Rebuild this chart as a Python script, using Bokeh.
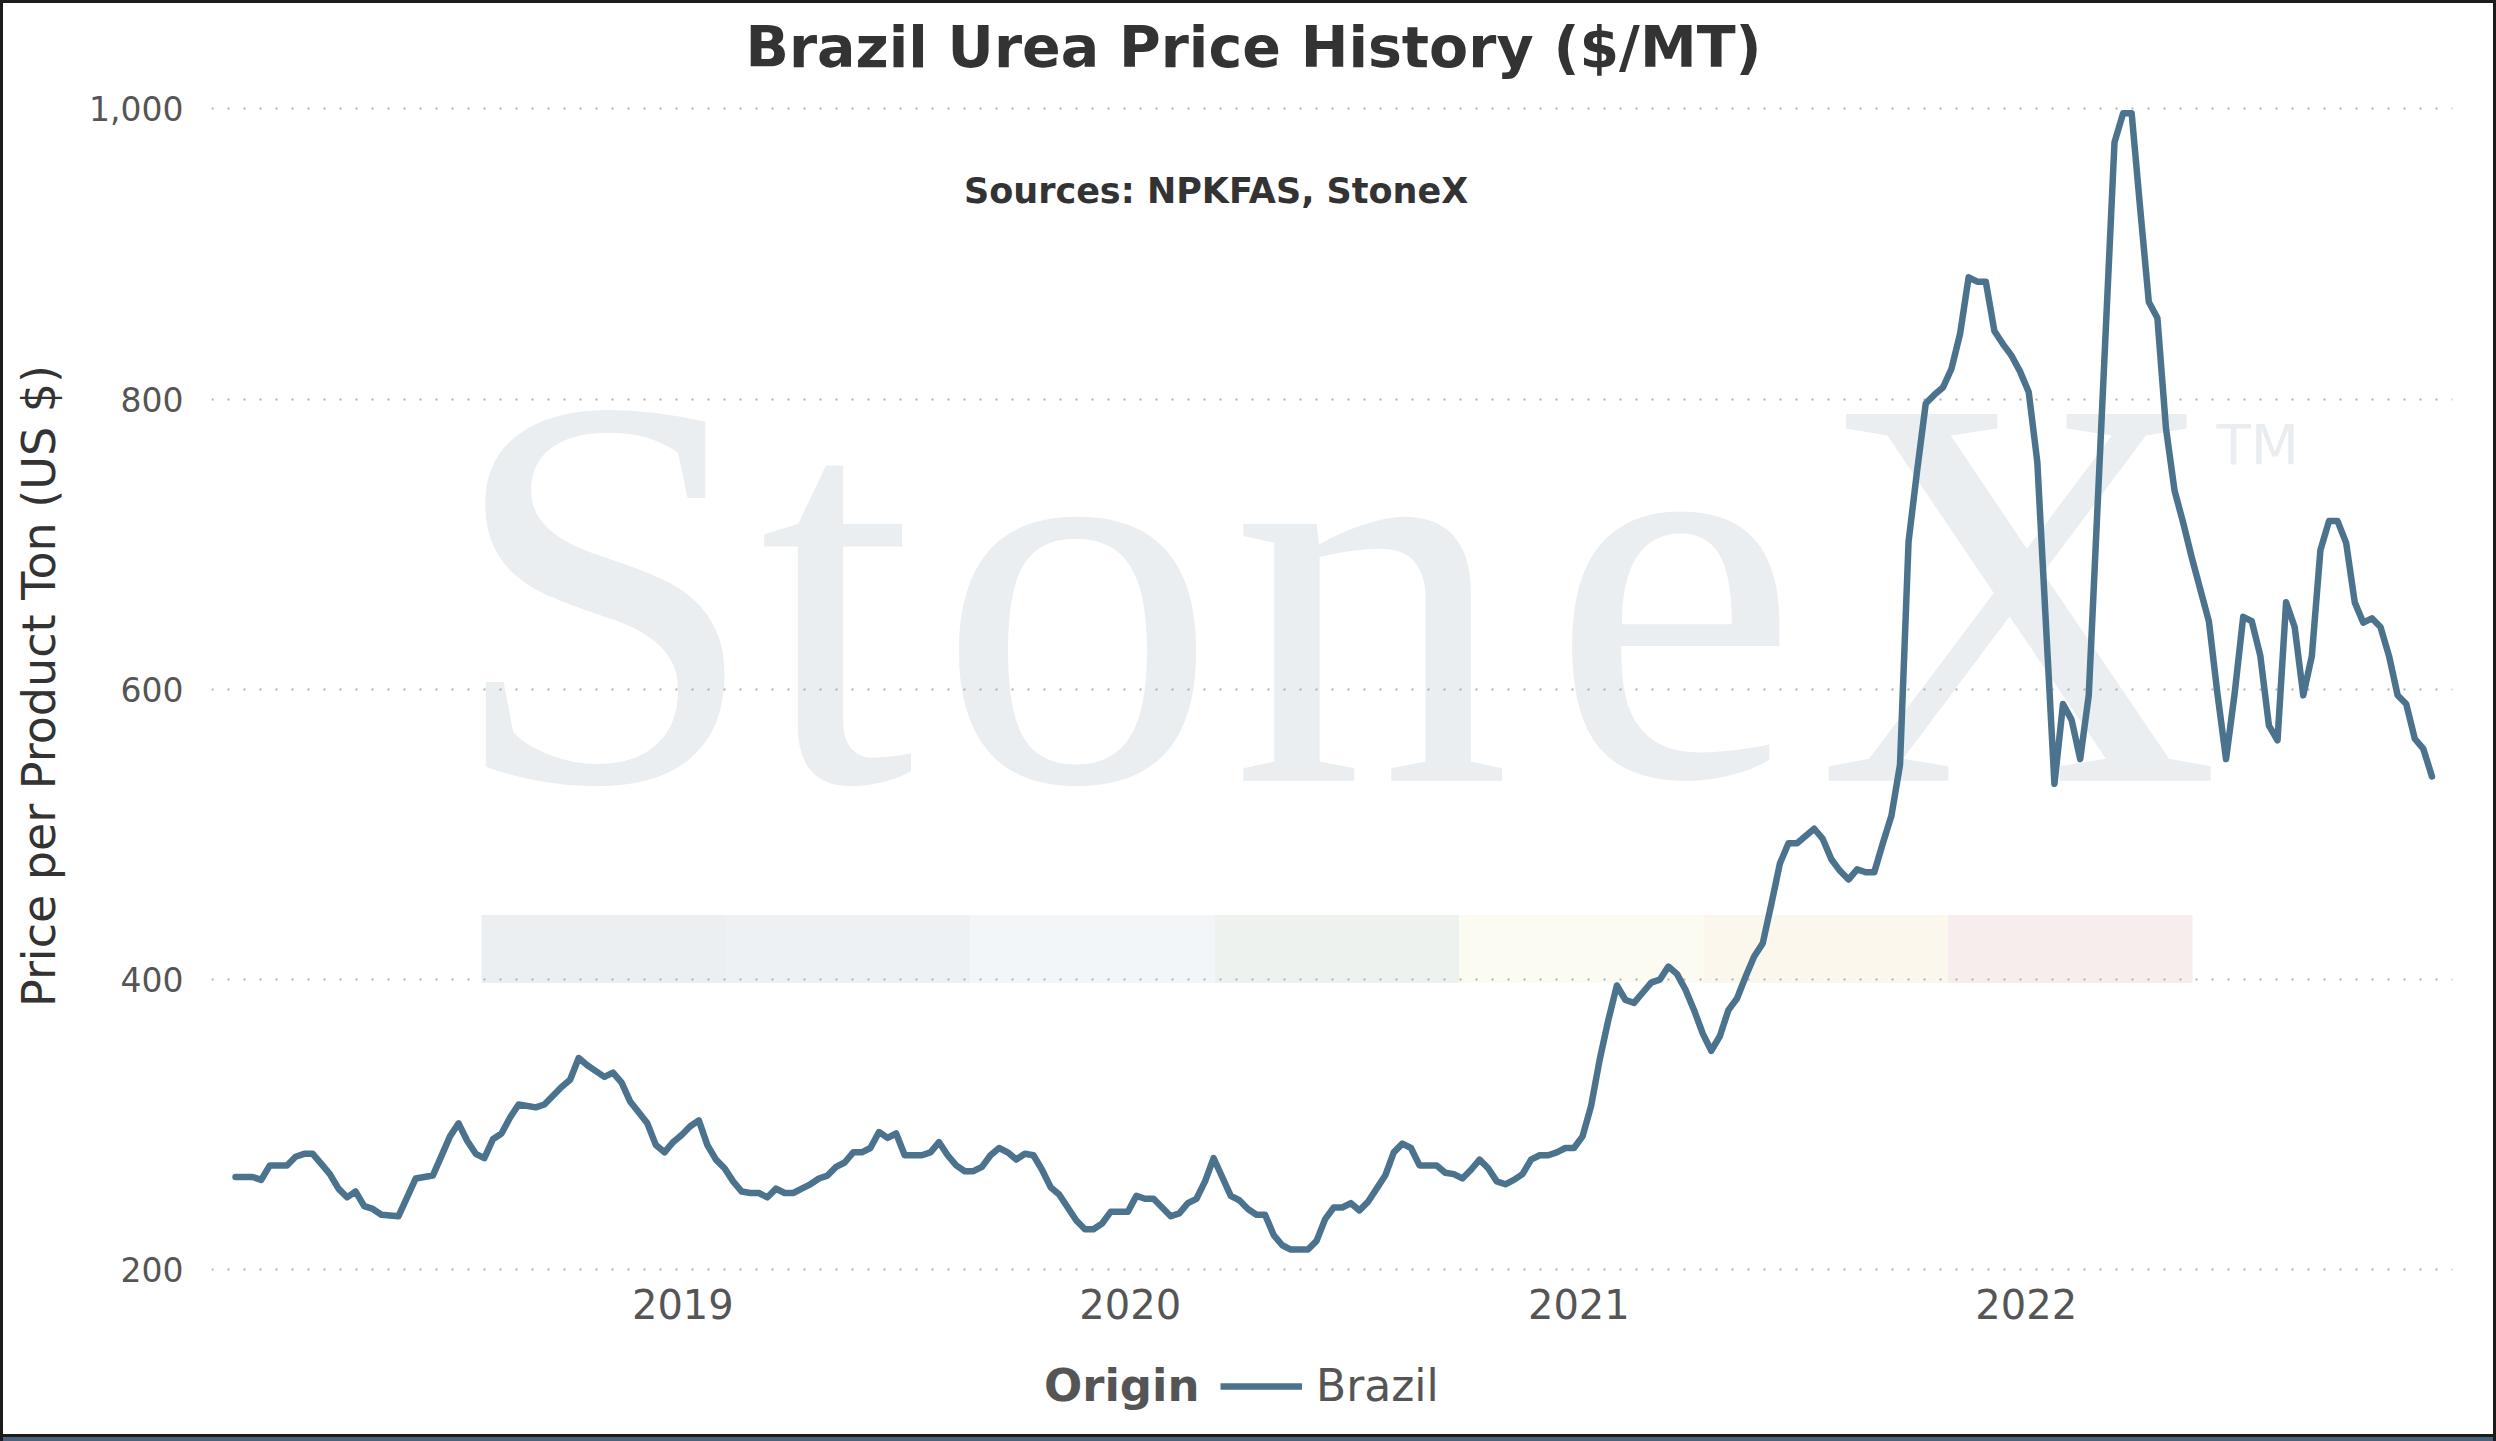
import numpy as np
import pandas as pd
from bokeh.plotting import figure
from bokeh.layouts import column
from bokeh.models import (Range1d, FixedTicker, NumeralTickFormatter, DatetimeTickFormatter,
                          Label, BoxAnnotation, Legend, LegendItem, ColumnDataSource)
from bokeh.embed import file_html
from bokeh.resources import INLINE

# ---------------- data ----------------
chart_title = "Brazil Urea Price History ($/MT)"
source_note = "Sources: NPKFAS, StoneX"
y_axis_title = "Price per Product Ton (US $)"
legend_title = "Origin"
series_name = "Brazil"
start_date = "2018-01-01"

weeks_since_start = [
    0, 2, 3, 4, 6, 7, 8, 9, 10, 11, 12, 13, 14, 15, 16, 17, 19, 20, 21, 22, 23, 25, 26, 27, 28, 29,
    30, 31, 32, 33, 35, 36, 37, 38, 39, 40, 41, 42, 43, 44, 45, 46, 48, 49, 50, 51, 52, 53, 54, 55,
    56, 57, 58, 59, 60, 61, 62, 63, 64, 65, 66, 67, 68, 69, 70, 71, 72, 73, 74, 75, 76, 77, 78, 80,
    81, 82, 83, 84, 85, 86, 87, 88, 89, 90, 91, 92, 93, 94, 95, 96, 97, 98, 99, 100, 101, 102, 104,
    105, 106, 107, 108, 109, 110, 111, 112, 113, 114, 115, 116, 117, 118, 119, 120, 121, 122, 123,
    125, 126, 127, 128, 129, 130, 131, 132, 133, 134, 135, 136, 137, 138, 140, 141, 142, 143, 144,
    145, 146, 147, 148, 149, 150, 151, 152, 153, 154, 155, 156, 157, 158, 159, 160, 161, 162, 163,
    164, 165, 166, 167, 168, 169, 170, 171, 172, 173, 174, 175, 176, 177, 178, 179, 180, 181, 182,
    183, 184, 185, 186, 187, 188, 189, 190, 191, 192, 193, 194, 195, 196, 197, 198, 199, 200, 201,
    202, 203, 204, 205, 206, 207, 208, 209, 210, 212, 213, 214, 215, 216, 219, 220, 221, 222, 223,
    224, 225, 226, 227, 228, 229, 230, 231, 232, 233, 234, 235, 236, 237, 238, 239, 240, 241, 242,
    243, 244, 245, 246, 247, 248, 249, 250, 251, 252, 253, 254, 255, 256,
]
brazil_price = [
    264, 264, 262, 272, 272, 278, 280, 280, 273, 266, 256, 250, 254, 244, 242, 238, 237, 250, 263, 264, 265, 292, 301, 289, 280, 277,
    290, 294, 305, 314, 312, 314, 320, 326, 331, 346, 341, 337, 333, 336, 329, 316, 301, 286, 281, 288, 293, 299, 303, 286,
    276, 270, 261, 254, 253, 253, 250, 256, 253, 253, 256, 259, 263, 265, 271, 274, 281, 281, 284, 295, 291, 294, 279, 279,
    281, 288, 279, 272, 268, 268, 271, 279, 284, 281, 276, 280, 279, 269, 257, 252, 243, 234, 228, 228, 232, 240, 240,
    251, 249, 249, 243, 237, 239, 246, 249, 261, 277, 264, 251, 248, 242, 238, 238, 224, 217, 214,
    214, 220, 235, 243, 243, 246, 241, 247, 256, 265, 281, 287, 284, 272, 272, 267, 266, 263, 269,
    276, 270, 261, 259, 262, 266, 276, 279, 279, 281, 284, 284, 292, 313, 345, 372, 396, 386, 384,
    391, 398, 400, 409, 404, 393, 379, 363, 351, 361, 379, 387, 402, 416, 425, 452, 480, 494, 494,
    499, 504, 497, 483, 475, 469, 476, 474, 474, 494, 513, 548, 702, 751, 797, 803, 808, 821, 845,
    884, 881, 881, 847, 838, 830, 819, 805, 757, 535, 590, 579, 552, 596, 977, 997, 997, 931, 867,
    856, 780, 737, 715, 691, 669, 647, 597, 552, 597, 650, 647, 623, 575, 565, 660, 643, 596, 623,
    696, 716, 716, 701, 660, 646, 649, 643, 623, 596, 590, 566, 559, 540,
]
year_tick_labels = ["2019", "2020", "2021", "2022"]
price_ticks = [200, 400, 600, 800, 1000]

watermark_letters = ["S", "t", "o", "n", "e", "X"]
watermark_tm = "TM"
band_colors = ["#eceff1", "#edf1f3", "#f2f6f9", "#edf2ef", "#fcfbf2", "#fbf7ec", "#f8eded"]

# ---------------- layout helpers (page pixels) ----------------
W = 2496
H_MAIN, H_LEG = 1350, 91
FRAME_L, FRAME_R, FRAME_T, FRAME_B = 211, 2452, 88, 1281
origin = pd.Timestamp(start_date)
PX_PER_DAY = 1.2257
ORIGIN_PX = 235.0
PX_PER_UNIT = 1.4536
Y1000_PX = 106.5


def ms(ts):
    return ts.value / 1e6


def x_at(cx):
    return ms(origin + pd.Timedelta(days=(cx - ORIGIN_PX) / PX_PER_DAY))


def y_at(cy):
    return 1000 - (cy - Y1000_PX) / PX_PER_UNIT


dates = origin + pd.to_timedelta(np.array(weeks_since_start) * 7, unit="D")
src = ColumnDataSource(data=dict(date=dates, price=brazil_price))

FONT = "DejaVu Sans"
LINE_COLOR = "#4c738e"
LINE_W = 6.5
WM_COLOR = "#eaeef1"
EDGE = "#1c1c1c"

p = figure(width=W, height=H_MAIN, x_axis_type="datetime", output_backend="svg",
           toolbar_location=None, title=chart_title,
           x_range=Range1d(x_at(FRAME_L), x_at(FRAME_R)),
           y_range=Range1d(y_at(FRAME_B), y_at(FRAME_T)),
           min_border_left=FRAME_L, min_border_right=W - FRAME_R,
           min_border_top=FRAME_T, min_border_bottom=H_MAIN - FRAME_B)
p.outline_line_color = None
p.background_fill_color = "white"
p.border_fill_alpha = 0

# title
p.title.text_font = FONT
p.title.text_font_size = "57px"
p.title.text_font_style = "bold"
p.title.text_color = "#333333"
p.title.align = "left"
p.title.offset = 745 - FRAME_L
p.title.standoff = 22

# watermark (decorative background)
letter_centers = [603, 836, 1077, 1370, 1674, 2018]
for ch, cx in zip(watermark_letters, letter_centers):
    p.add_layout(Label(x=x_at(cx), y=y_at(590), text=ch, text_font="Liberation Serif",
                       text_font_size="560px", text_color=WM_COLOR, text_baseline="alphabetic",
                       text_align="center", level="image"))
p.add_layout(Label(x=x_at(2216), y=y_at(443), text=watermark_tm, text_font=FONT,
                   text_font_size="56px", text_color="#e9edf0", text_baseline="alphabetic",
                   text_align="left", level="image"))
band_left, band_right = 481, 2192
seg = (band_right - band_left) / len(band_colors)
for i, c in enumerate(band_colors):
    p.add_layout(BoxAnnotation(left=x_at(band_left + i * seg), right=x_at(band_left + (i + 1) * seg),
                               bottom=y_at(982), top=y_at(914), fill_color=c, fill_alpha=1.0,
                               line_color=None, level="image"))

# axes
p.xaxis.ticker = FixedTicker(ticks=[ms(pd.Timestamp(f"{y}-01-01")) for y in year_tick_labels])
p.xaxis.formatter = DatetimeTickFormatter(years="%Y", months="%Y", days="%Y")
p.yaxis.ticker = FixedTicker(ticks=price_ticks)
p.yaxis.formatter = NumeralTickFormatter(format="0,0")
for ax in (p.xaxis[0], p.yaxis[0]):
    ax.axis_line_color = None
    ax.major_tick_line_color = None
    ax.minor_tick_line_color = None
    ax.major_tick_out = 0
    ax.major_tick_in = 0
    ax.minor_tick_out = 0
    ax.major_label_text_font = FONT
    ax.major_label_text_color = "#555555"
p.xaxis.major_label_text_font_size = "40px"
p.xaxis.major_label_standoff = 7
p.yaxis.major_label_text_font_size = "33px"
p.yaxis.major_label_standoff = 28
p.yaxis.axis_label = y_axis_title
p.yaxis.axis_label_text_font = FONT
p.yaxis.axis_label_text_font_size = "46px"
p.yaxis.axis_label_text_font_style = "normal"
p.yaxis.axis_label_text_color = "#333333"
p.yaxis.axis_label_standoff = 20

p.xgrid.visible = False
p.ygrid.ticker = FixedTicker(ticks=price_ticks)
p.ygrid.grid_line_color = "#b0b0b0"
p.ygrid.grid_line_width = 2
p.ygrid.grid_line_dash = "2 14"

# subtitle
p.add_layout(Label(x=x_at(1215.6), y=y_at(188.7), text=source_note, text_font=FONT,
                   text_font_size="35px", text_font_style="bold", text_color="#333333",
                   text_align="center", text_baseline="alphabetic"))

# data line
r = p.line(x="date", y="price", source=src, line_color=LINE_COLOR, line_width=LINE_W,
           line_join="round", line_cap="round")

# ---------------- legend strip (frame aligned with the main plot's frame) ----------------
q = figure(width=W, height=H_LEG, output_backend="svg", toolbar_location=None,
           x_range=Range1d(FRAME_L, FRAME_R), y_range=Range1d(H_MAIN + H_LEG, H_MAIN),
           x_axis_location=None, y_axis_location=None,
           min_border_left=0, min_border_right=0, min_border_top=0, min_border_bottom=0)
q.outline_line_color = None
q.grid.visible = False
q.background_fill_alpha = 0
q.border_fill_alpha = 0
r_key = q.line(x=[float("nan")], y=[float("nan")], line_color=LINE_COLOR, line_width=LINE_W)
legend = Legend(items=[LegendItem(label=series_name, renderers=[r_key])],
                location=(1220 - FRAME_L, 30), orientation="horizontal",
                glyph_width=82, glyph_height=44, label_height=44, label_standoff=14,
                padding=0, margin=0, spacing=0, border_line_color=None,
                background_fill_alpha=0, label_text_font=FONT, label_text_font_size="44px",
                label_text_color="#555555")
q.add_layout(legend, "center")
q.add_layout(Label(x=1199, y=1385, text=legend_title, text_font=FONT,
                   text_font_size="45px", text_font_style="bold", text_color="#555555",
                   text_align="right", text_baseline="middle"))

layout = column(p, q, spacing=0,
                styles={"background-color": "white",
                        "box-shadow": f"inset 3px 0 0 {EDGE}, inset -3px 0 0 {EDGE}, "
                                      f"inset 0 3px 0 {EDGE}, inset 0 -4px 0 #4b6378, "
                                      f"inset 0 -7px 0 {EDGE}"})
open("out.html", "w").write(file_html(layout, INLINE))
